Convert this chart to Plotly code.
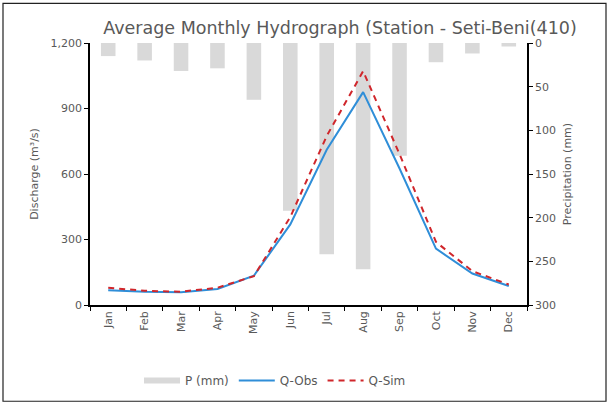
import plotly.graph_objects as go

months = ["Jan", "Feb", "Mar", "Apr", "May", "Jun", "Jul", "Aug", "Sep", "Oct", "Nov", "Dec"]
precip_mm = [15, 20, 32, 29, 65, 192, 242, 259, 129, 22, 12, 4]
q_obs = [68, 61, 58, 73, 134, 369, 711, 975, 625, 258, 144, 87]
q_sim = [79, 65, 61, 79, 132, 403, 774, 1071, 691, 289, 155, 94]

FONT = "DejaVu Sans, Arial, sans-serif"
GRAY = "#595959"
BAR_COLOR = "#d9d9d9"

fig = go.Figure()
# precipitation bars on primary (right, reversed) axis so lines draw on top
fig.add_trace(go.Bar(x=months, y=precip_mm, name="P (mm)", yaxis="y",
                     marker=dict(color=BAR_COLOR, line=dict(width=0)), width=0.4,
                     showlegend=False))
# legend stand-in for the bar series (wide flat swatch)
fig.add_trace(go.Scatter(x=[None], y=[None], name="P (mm)", mode="lines", yaxis="y",
                         line=dict(color=BAR_COLOR, width=6)))
fig.add_trace(go.Scatter(x=months, y=q_obs, name="Q-Obs", mode="lines", yaxis="y2",
                         line=dict(color="#2f8ed8", width=2)))
fig.add_trace(go.Scatter(x=months, y=q_sim, name="Q-Sim", mode="lines", yaxis="y2",
                         line=dict(color="#d0262b", width=2, dash="6px,5px")))

L, R, T, B = 90, 83, 43, 100
W, H = 610, 407
pw, ph = W - L - R, H - T - B

fig.update_layout(
    width=W, height=H,
    margin=dict(l=L, r=R, t=T, b=B),
    paper_bgcolor="white", plot_bgcolor="white",
    font=dict(family=FONT, color=GRAY, size=11),
    title=dict(text="Average Monthly Hydrograph (Station - Seti-Beni(410)",
               x=340 / W, xanchor="center", y=1 - 28 / H, yanchor="middle",
               font=dict(size=17.5, color=GRAY)),
    showlegend=True,
    legend=dict(orientation="h", x=(275 - L) / pw, xanchor="center", y=(H - B - 383) / ph,
                yanchor="middle", font=dict(size=12, color=GRAY),
                bgcolor="rgba(0,0,0,0)", itemwidth=36),
    xaxis=dict(type="category", tickangle=-90, tickson="boundaries",
               showline=True, linecolor="black", linewidth=1.5,
               ticks="outside", ticklen=4, tickcolor="black",
               showgrid=False, zeroline=False,
               tickfont=dict(size=11, color=GRAY)),
    yaxis=dict(range=[300, 0], tickvals=[0, 50, 100, 150, 200, 250, 300],
               side="right", showline=True, linecolor="black",
               linewidth=1.5, ticks="outside", ticklen=4, tickcolor="black",
               showgrid=False, zeroline=False,
               title=dict(text="Precipitation (mm)", font=dict(size=11, color=GRAY), standoff=8),
               tickfont=dict(size=11, color=GRAY)),
    yaxis2=dict(range=[0, 1200], tickvals=[0, 300, 600, 900, 1200],
                overlaying="y", side="left",
                tickformat=",", showline=True, linecolor="black", linewidth=1.5,
                ticks="outside", ticklen=4, tickcolor="black",
                showgrid=False, zeroline=False,
                title=dict(text="Discharge (m³/s)", font=dict(size=11, color=GRAY), standoff=10),
                tickfont=dict(size=11, color=GRAY)),
)

fig.add_shape(type="rect", xref="paper", yref="paper",
              x0=(3 - L) / pw, x1=(606 - L) / pw,
              y0=(H - B - 404) / ph, y1=(H - B - 3) / ph,
              line=dict(color="#222222", width=1.2), fillcolor="rgba(0,0,0,0)", layer="below")

fig.write_html("out.html")
